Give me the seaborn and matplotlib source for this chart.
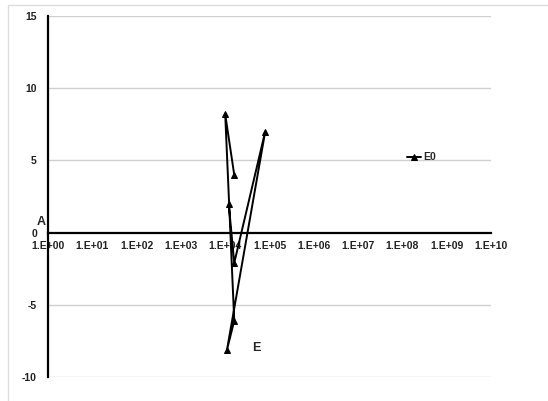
import numpy as np
import pandas as pd
import seaborn as sns
import matplotlib.pyplot as plt
from matplotlib.patches import Rectangle

# data (series E0), in drawing order
e_vals = [1.6e4, 1.0e4, 1.6e4, 1.1e4, 8.0e4, 1.6e4, 1.2e4]
a_vals = [4.0, 8.2, -6.1, -8.1, 7.0, -2.1, 2.0]
series = ["E0"] * len(e_vals)

x_ticks = [10.0 ** k for k in range(0, 11)]
x_labels = ["1.E+%02d" % k for k in range(0, 11)]
y_ticks = [-10, -5, 0, 5, 10, 15]

df = pd.DataFrame({"E": e_vals, "A": a_vals, "series": series})

sns.set_style("white")
plt.rcParams["font.family"] = ["Liberation Sans", "DejaVu Sans"]

fig = plt.figure(figsize=(5.48, 4.01), dpi=100)
ax = fig.add_axes([48 / 548, 1 - 377 / 401, 443 / 548, 361 / 401])

# outer frame like the spreadsheet chart area
fig.patches.append(Rectangle((8 / 548, -0.1), 1.2, 1.1 - 5 / 401, transform=fig.transFigure,
                             fill=False, edgecolor="#dddddd", linewidth=1))

for yv in [-10, -5, 5, 10, 15]:
    ax.axhline(yv, color="#d0d0d0", linewidth=1, zorder=0)

sns.lineplot(
    data=df, x="E", y="A", hue="series", sort=False, estimator=None,
    palette=["black"], marker="^", markersize=5, markeredgecolor="black",
    linewidth=1.4, ax=ax
)

ax.set_xscale("log")
ax.set_xlim(1, 1e10)
ax.set_ylim(-10, 15)
ax.set_xticks(x_ticks)
ax.set_xticklabels(x_labels)
ax.minorticks_off()
ax.set_yticks(y_ticks)
ax.set_yticklabels([str(v) for v in y_ticks])

ax.spines["top"].set_visible(False)
ax.spines["right"].set_visible(False)
ax.spines["bottom"].set_position(("data", 0))
ax.spines["bottom"].set_linewidth(1.6)
ax.spines["left"].set_linewidth(1.6)
ax.spines["bottom"].set_color("black")
ax.spines["left"].set_color("black")

ax.tick_params(axis="x", direction="in", length=3, width=1, pad=6, labelsize=7.5)
ax.tick_params(axis="y", direction="out", length=3, width=1, pad=5, labelsize=7.5)
for lab in ax.get_xticklabels() + ax.get_yticklabels():
    lab.set_fontweight("bold")
    lab.set_color("#222222")

ax.set_xlabel("")
ax.set_ylabel("")
ax.text(-0.005, 0.43, "A", transform=ax.transAxes, ha="right", va="center",
        fontsize=9, fontweight="bold")
ax.text(0.47, 0.08, "E", transform=ax.transAxes, ha="center", va="center",
        fontsize=9, fontweight="bold")

ax.legend(loc="center left", bbox_to_anchor=(0.79, 0.609), frameon=False,
          handlelength=1.3, handletextpad=0.2,
          prop={"weight": "bold", "size": 7.5})

fig.savefig("out.png", dpi=100)
